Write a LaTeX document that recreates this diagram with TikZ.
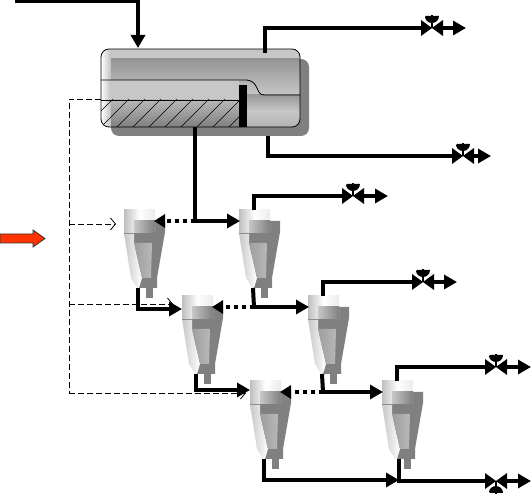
\documentclass[tikz,border=0pt]{standalone}
\usepackage{amsmath,amssymb}
\usetikzlibrary{arrows.meta}
\definecolor{shadowgray}{gray}{0.5}
\definecolor{feedred}{RGB}{255,51,0}
\tikzset{
	flow/.style={line width=4pt, draw=black},
	flowend/.style={flow, -{Triangle[length=13pt,width=14pt]}, shorten >=-1pt},
	flowdot/.style={flow, dash pattern=on 4pt off 4pt, -{Triangle[length=11pt,width=13pt]}},
	ctrl/.style={line width=0.8pt, dash pattern=on 6pt off 3pt},
	ctrlend/.style={ctrl, -{Straight Barb[length=5pt,width=12pt]}},
	hydrocyclone/.pic={
		\fill[shadowgray] (10,11) -- (41,11) -- (41,22) -- (33,68) -- (33,78) -- (15,78) -- (15,68) -- (10,33) -- cycle;
		\fill[shadowgray] (22,78) rectangle (29,88);
		\shade[left color=black!22, right color=white] (0,23) -- (10,23) -- (10,33) -- (18,68) -- (15,78) -- (13,78) -- (7,68) -- cycle;
		\shade[left color=black!38, right color=black!28] (10,33) -- (28,33) -- (27,68) -- (18,68) -- cycle;
		\shade[left color=black!25, right color=black!8, middle color=white] (0,0) rectangle (31,23);
		\shade[left color=black!22, right color=black!50] (10,11) rectangle (31,23);
		\draw[black!45, line width=0.5pt] (0,23) -- (10,23);
		\coordinate (-top) at (15,0);
		\coordinate (-in) at (0,11);
		\coordinate (-rin) at (30,11);
		\coordinate (-bot) at (14,78);
	},
	valve/.pic={
		\fill (-11,-8) -- (0,0) -- (-11,8) -- cycle;
		\fill (11,-8) -- (0,0) -- (11,8) -- cycle;
		\draw[line width=1.2pt] (0,0) -- (0,-13);
		\fill (-7,-12) arc[start angle=180, end angle=0, radius=7] [rounded corners=1pt] -- cycle;
		\coordinate (-in) at (-10,0);
		\coordinate (-out) at (10,0);
	},
}
\begin{document}
\begin{tikzpicture}[x=1pt, y=-1pt]
	\useasboundingbox (0,0) rectangle (531,497);
	\fill[shadowgray, rounded corners=8pt] (111,59) rectangle (309,136);
	\begin{scope}
		\clip[rounded corners=8pt] (101,49) rectangle (300,127);
		\fill[black!22] (101,49) rectangle (300,127);
		\shade[left color=white, right color=black!25] (101,49) rectangle (111,127);
		\shade[top color=black!42, bottom color=black!22] (111,59) rectangle (300,95);
		\shade[top color=black!40, bottom color=black!30, middle color=black!22] (247,95) rectangle (300,127);
		\fill[black!22] (111,80) rectangle (239,100);
		\shade[top color=black!28, bottom color=black!50] (111,100) rectangle (239,127);
		\clip (101,100) rectangle (239,127);
		\foreach \hx in {0,1,...,9} {
			\draw[line width=0.7pt] (85+16*\hx,127) -- ++(28,-28);
		}
	\end{scope}
	\draw[line width=0.8pt, rounded corners=8pt] (101,49) rectangle (300,127);
	\draw[line width=0.8pt] (101,80) -- (245,80) .. controls (260,80) and (255,95) .. (264,95) -- (300,95);
	\draw[line width=0.8pt] (101,100) -- (239,100);
	\fill (239,85) rectangle (247,127);
	\pic (hcA) at (124,210) {hydrocyclone};
	\pic (hcB) at (239,210) {hydrocyclone};
	\pic (hcC) at (182,296) {hydrocyclone};
	\pic (hcD) at (308,296) {hydrocyclone};
	\pic (hcE) at (250,381) {hydrocyclone};
	\pic (hcF) at (382,381) {hydrocyclone};
	\pic (vTop) at (432,28) {valve};
	\pic (vOil) at (463,156) {valve};
	\pic (vB) at (353,196) {valve};
	\pic (vD) at (423,282) {valve};
	\pic (vF) at (496,367) {valve};
	\pic[yscale=-1] (vW) at (496,481) {valve};
	\coordinate (feed) at (15,1);
	\coordinate (tankIn) at (138,47);
	\coordinate (tankGas) at (265,53);
	\coordinate (tankOil) at (268,136);
	\coordinate (tankWater) at (195,127);
	\coordinate (tankLevel) at (101,99);
	\coordinate (endTop) at (465,28);
	\coordinate (endOil) at (490,156);
	\coordinate (endB) at (387,196);
	\coordinate (endD) at (456,282);
	\coordinate (endF) at (530,367);
	\coordinate (endW) at (530,481);
	\coordinate (jAB) at (195,221);
	\coordinate (jCD) at (254,307);
	\coordinate (jEF) at (323,392);
	\coordinate (hcClow) at (181,309);
	\coordinate (hcElow) at (249,390);
	\coordinate (hcFlow) at (398,480);
	\coordinate (hcFbot) at (399,459);
	\coordinate (dashA) at (69,224);
	\coordinate (dashC) at (69,304);
	\coordinate (dashE) at (69,393);
	\coordinate (tipA) at (116,224);
	\coordinate (tipC) at (173,304);
	\coordinate (tipE) at (246,393);
	\draw[flowend] (feed) -| (tankIn);
	\draw[flow] (tankGas) |- (vTop-in);
	\draw[flowend] (vTop-out) -- (endTop);
	\draw[flow] (tankOil) |- (vOil-in);
	\draw[flowend] (vOil-out) -- (endOil);
	\draw[flow] (tankWater) -- (jAB);
	\draw[flowend] (jAB) -- (hcB-in);
	\draw[flowdot] (jAB) -- (hcA-rin);
	\draw[flow] (hcB-top) |- (vB-in);
	\draw[flowend] (vB-out) -- (endB);
	\draw[flow] (hcB-bot) -- (jCD);
	\draw[flowend] (jCD) -- (hcD-in);
	\draw[flowdot] (jCD) -- (hcC-rin);
	\draw[flowend] (hcA-bot) |- (hcClow);
	\draw[flow] (hcD-top) |- (vD-in);
	\draw[flowend] (vD-out) -- (endD);
	\draw[flow] (hcD-bot) -- (jEF);
	\draw[flowend] (jEF) -- (hcF-in);
	\draw[flowdot] (jEF) -- (hcE-rin);
	\draw[flowend] (hcC-bot) |- (hcElow);
	\draw[flow] (hcF-top) |- (vF-in);
	\draw[flowend] (vF-out) -- (endF);
	\draw[flowend] (hcE-bot) |- (hcFlow);
	\draw[flow] (hcFbot) |- (vW-in);
	\draw[flowend] (vW-out) -- (endW);
	\draw[ctrl] (tankLevel) -| (dashE);
	\draw[ctrlend] (dashA) -- (tipA);
	\draw[ctrlend] (dashC) -- (tipC);
	\draw[ctrlend] (dashE) -- (tipE);
	\draw[fill=feedred, line width=0.8pt, draw=black!80] (0,234) -- (33,234) -- (33,230) -- (45,238.5) -- (33,247) -- (33,243) -- (0,243) -- cycle;
\end{tikzpicture}
\end{document}
